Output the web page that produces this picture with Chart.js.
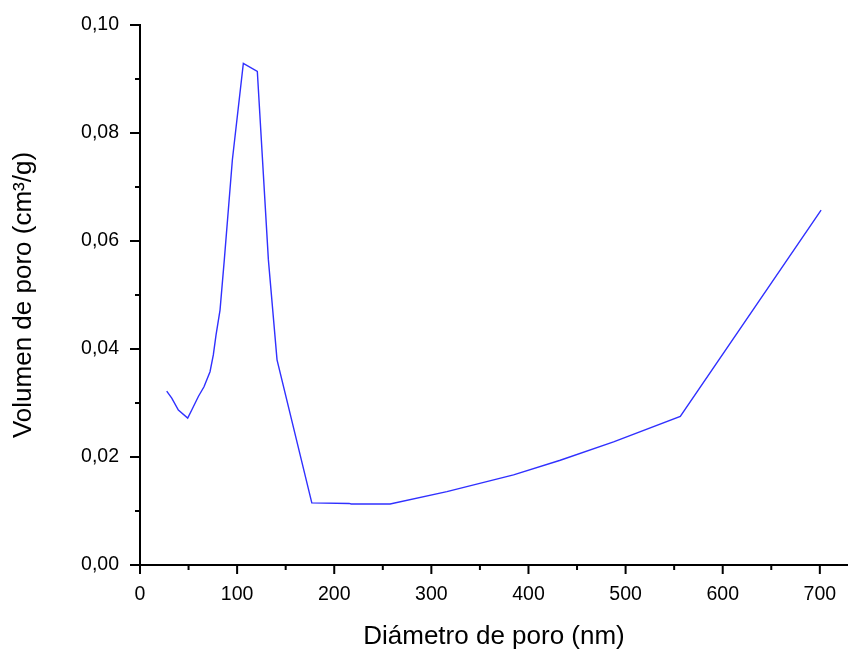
<!DOCTYPE html>
<html>
<head>
<meta charset="utf-8">
<title>Volumen de poro</title>
<script src="https://cdn.jsdelivr.net/npm/chart.js@4.4.1/dist/chart.umd.min.js"></script>
<style>
    html, body { margin: 0; padding: 0; background: #ffffff; }
    #wrap { width: 848px; height: 655px; }
</style>
</head>
<body>
<div id="wrap"><canvas id="poroChart" width="848" height="655"></canvas></div>
<script>
// --- DATOS: distribución de tamaño de poro ---
const diametro = [27.5, 32.7, 39.5, 49.1, 53.3, 60.1, 65.9, 72.1, 75.5, 78.3, 82.4, 86.8, 95.1,
    106.4, 120.8, 132.2, 141.1, 176.9, 215.3, 217.4, 257.5, 316, 384.6, 432.7, 487.6, 556.3, 701.3];
const volumen = [0.0322, 0.0309, 0.0287, 0.0272, 0.0287, 0.0312, 0.0330, 0.0358, 0.0389, 0.0426, 0.0472, 0.0565, 0.0750,
    0.0929, 0.0914, 0.0565, 0.0380, 0.0115, 0.0114, 0.0113, 0.0113, 0.0136, 0.0167, 0.0194, 0.0228, 0.0275, 0.0657];

const xTicks = [0, 100, 200, 300, 400, 500, 600, 700];
const yTicks = [0, 0.02, 0.04, 0.06, 0.08, 0.10];
const xMinorTicks = [50, 150, 250, 350, 450, 550, 650];
const yMinorTicks = [0.01, 0.03, 0.05, 0.07, 0.09];

const FONT = "'Liberation Sans', Arial, sans-serif";

// marcas de eje estilo Origin: principales largas, secundarias cortas
const axisTicks = {
    id: 'axisTicks',
    afterDraw(chart) {
        const { ctx, scales: { x, y }, chartArea } = chart;
        ctx.save();
        ctx.strokeStyle = '#000';
        ctx.lineWidth = 2;
        ctx.beginPath();
        xTicks.forEach(v => { const px = x.getPixelForValue(v); ctx.moveTo(px, chartArea.bottom); ctx.lineTo(px, chartArea.bottom + 9); });
        xMinorTicks.forEach(v => { const px = x.getPixelForValue(v); ctx.moveTo(px, chartArea.bottom); ctx.lineTo(px, chartArea.bottom + 5); });
        yTicks.forEach(v => { const py = y.getPixelForValue(v); ctx.moveTo(chartArea.left, py); ctx.lineTo(chartArea.left - 10, py); });
        yMinorTicks.forEach(v => { const py = y.getPixelForValue(v); ctx.moveTo(chartArea.left, py); ctx.lineTo(chartArea.left - 5, py); });
        ctx.stroke();
        ctx.restore();
    }
};

const ctx = document.getElementById('poroChart').getContext('2d');
new Chart(ctx, {
    type: 'line',
    data: {
        datasets: [{
            data: diametro.map((d, i) => ({ x: d, y: volumen[i] })),
            borderColor: '#3030ff',
            borderWidth: 1.4,
            pointRadius: 0,
            tension: 0,
            fill: false
        }]
    },
    options: {
        responsive: false, animation: false, events: [],
        layout: { padding: { top: 25, right: 0, left: 0, bottom: 0 } },
        plugins: { legend: { display: false }, tooltip: { enabled: false } },
        scales: {
            x: {
                type: 'linear', min: 0, max: 729,
                afterBuildTicks: scale => { scale.ticks = xTicks.map(v => ({ value: v })); },
                afterFit: scale => { scale.height = 90; scale.paddingLeft = 0; scale.paddingRight = 0; },
                grid: { drawOnChartArea: false, drawTicks: false },
                border: { display: true, color: '#000', width: 2 },
                ticks: { padding: 18, color: '#000', font: { family: FONT, size: 19.5 }, maxRotation: 0, autoSkip: false },
                title: { display: true, text: 'Diámetro de poro (nm)', color: '#000', font: { family: FONT, size: 26 }, padding: { top: 0, bottom: 3 } }
            },
            y: {
                min: 0, max: 0.1,
                afterBuildTicks: scale => { scale.ticks = yTicks.map(v => ({ value: v })); },
                afterFit: scale => { scale.width = 140; scale.paddingTop = 0; scale.paddingBottom = 0; },
                grid: { drawOnChartArea: false, drawTicks: false },
                border: { display: true, color: '#000', width: 2 },
                ticks: {
                    padding: 21, color: '#000', font: { family: FONT, size: 19.5 },
                    callback: v => v.toFixed(2).replace('.', ',')
                },
                title: { display: true, text: 'Volumen de poro (cm³/g)', color: '#000', font: { family: FONT, size: 26 }, padding: { top: 8, bottom: 0 } }
            }
        }
    },
    plugins: [axisTicks]
});
</script>
</body>
</html>
